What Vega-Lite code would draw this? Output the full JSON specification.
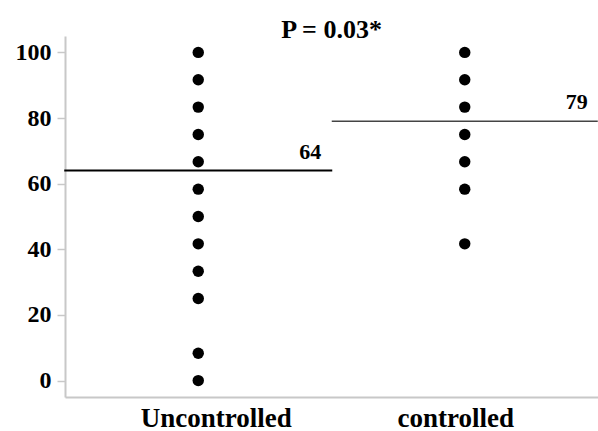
{
  "$schema": "https://vega.github.io/schema/vega-lite/v6.json",
  "autosize": {"type": "none"},
  "padding": {"left": 65, "top": 36, "right": 0, "bottom": 34},
  "width": 533,
  "height": 361,
  "background": "white",
  "title": {
    "text": "P = 0.03*",
    "font": "Liberation Serif",
    "fontSize": 26,
    "fontWeight": "bold",
    "color": "black",
    "anchor": "middle",
    "offset": 0,
    "dy": 7
  },
  "datasets": {
    "points": [
      {"group": "Uncontrolled", "score": 100},
      {"group": "Uncontrolled", "score": 91.67},
      {"group": "Uncontrolled", "score": 83.33},
      {"group": "Uncontrolled", "score": 75},
      {"group": "Uncontrolled", "score": 66.67},
      {"group": "Uncontrolled", "score": 58.33},
      {"group": "Uncontrolled", "score": 50},
      {"group": "Uncontrolled", "score": 41.67},
      {"group": "Uncontrolled", "score": 33.33},
      {"group": "Uncontrolled", "score": 25},
      {"group": "Uncontrolled", "score": 8.33},
      {"group": "Uncontrolled", "score": 0},
      {"group": "controlled", "score": 100},
      {"group": "controlled", "score": 91.67},
      {"group": "controlled", "score": 83.33},
      {"group": "controlled", "score": 75},
      {"group": "controlled", "score": 66.67},
      {"group": "controlled", "score": 58.33},
      {"group": "controlled", "score": 41.67}
    ],
    "means": [
      {"group": "Uncontrolled", "mean": 64},
      {"group": "controlled", "mean": 79}
    ]
  },
  "config": {
    "view": {"stroke": null},
    "axis": {"grid": false}
  },
  "encoding": {
    "x": {
      "field": "group",
      "type": "nominal",
      "sort": ["Uncontrolled", "controlled"],
      "scale": {"paddingInner": 0, "paddingOuter": 0},
      "axis": {
        "title": null,
        "labelAngle": 0,
        "ticks": false,
        "domainColor": "#c8c8c8",
        "domainWidth": 2,
        "labelFont": "Liberation Serif",
        "labelFontSize": 27,
        "labelFontWeight": "bold",
        "labelColor": "black",
        "labelPadding": 8,
        "labelOffset": {"condition": {"test": "datum.value === 'Uncontrolled'", "value": 18}, "value": -9}
      }
    }
  },
  "layer": [
    {
      "data": {"name": "means"},
      "transform": [{"filter": "datum.group === 'Uncontrolled'"}],
      "mark": {"type": "tick", "orient": "horizontal", "size": 268, "thickness": 2, "color": "black", "opacity": 1},
      "encoding": {
        "y": {"field": "mean", "type": "quantitative", "scale": {"domain": [-5, 105], "nice": false, "zero": false}}
      }
    },
    {
      "data": {"name": "means"},
      "transform": [{"filter": "datum.group === 'controlled'"}],
      "mark": {"type": "tick", "orient": "horizontal", "size": 266, "thickness": 1.5, "color": "#444444", "opacity": 1},
      "encoding": {
        "y": {"field": "mean", "type": "quantitative"}
      }
    },
    {
      "data": {"name": "means"},
      "mark": {"type": "text", "font": "Liberation Serif", "fontSize": 22, "fontWeight": "bold", "color": "black", "dx": 112, "dy": -12, "baseline": "alphabetic", "align": "center"},
      "encoding": {
        "y": {"field": "mean", "type": "quantitative"},
        "text": {"field": "mean", "type": "quantitative"}
      }
    },
    {
      "data": {"name": "points"},
      "mark": {"type": "circle", "size": 130, "color": "black", "opacity": 1},
      "encoding": {
        "y": {
          "field": "score",
          "type": "quantitative",
          "axis": {
            "title": null,
            "values": [0, 20, 40, 60, 80, 100],
            "domainColor": "#c8c8c8",
            "domainWidth": 2,
            "tickColor": "#c8c8c8",
            "tickWidth": 1.5,
            "tickSize": 8,
            "labelFont": "Liberation Serif",
            "labelFontSize": 24,
            "labelFontWeight": "bold",
            "labelColor": "black",
            "labelPadding": 6
          }
        }
      }
    }
  ]
}
